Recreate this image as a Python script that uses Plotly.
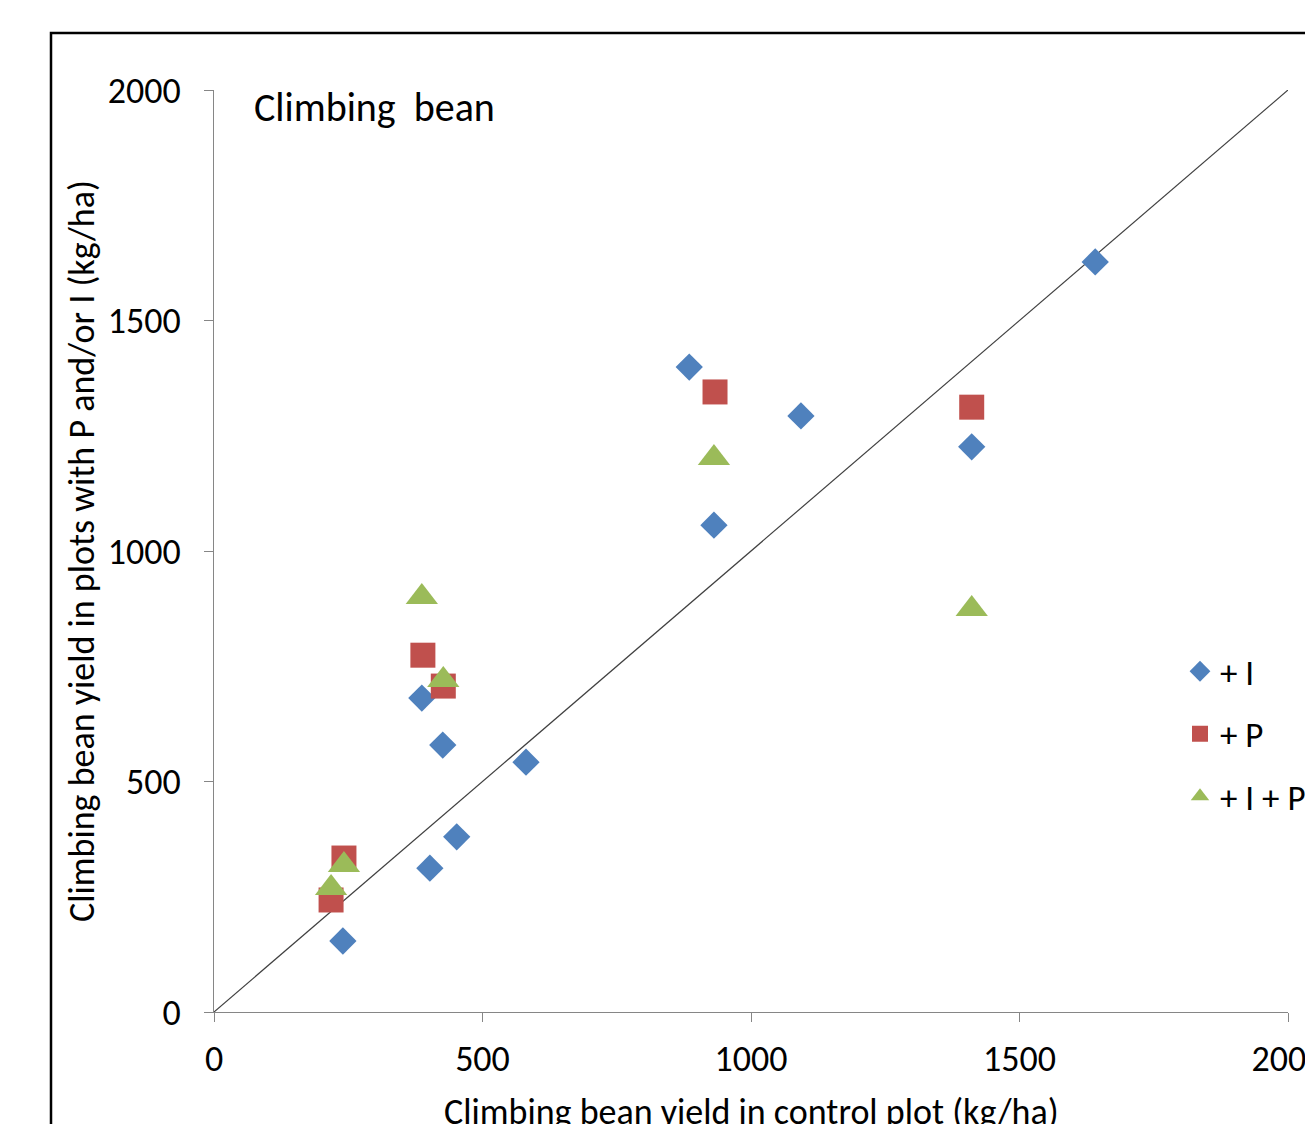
import plotly.graph_objects as go

# + I (blue diamonds)
i_x = [240, 218, 402, 452, 387, 426, 581, 885, 931, 1093, 1411, 1641]
i_y = [154, 258, 312, 380, 681, 579, 542, 1399, 1056, 1293, 1226, 1627]
# + P (red squares)
p_x = [218, 242, 389, 427, 933, 1411]
p_y = [243, 334, 774, 707, 1345, 1312]
# + I + P (green triangles)
ip_x = [218, 242, 387, 427, 931, 1411]
ip_y = [269, 319, 900, 720, 1202, 874]

line_x = [0, 2000]
line_y = [0, 2000]

FONT = "Carlito, Lato, Open Sans, sans-serif"
AXIS_GRAY = "#868686"

fig = go.Figure()
fig.add_trace(go.Scatter(x=line_x, y=line_y, mode="lines",
                         line=dict(color="#404040", width=1.2), showlegend=False,
                         hoverinfo="skip"))
fig.add_trace(go.Scatter(x=i_x, y=i_y, mode="markers", name="+ I", legendgroup="a",
                         marker=dict(symbol="diamond", size=21, color="#4F81BD", line=dict(width=0))))
fig.add_trace(go.Scatter(x=p_x, y=p_y, mode="markers", name="+ P", legendgroup="b",
                         marker=dict(symbol="square", size=25, color="#C0504D", line=dict(width=0))))
fig.add_trace(go.Scatter(x=ip_x, y=ip_y, mode="markers", name="+ I + P", legendgroup="c",
                         marker=dict(symbol="triangle-up", size=28, color="#9BBB59", line=dict(width=0))))

L, R, T, B = 214, 17, 90, 112
PW, PH = 1305 - L - R, 1124 - T - B

def px_to_paper_x(px):
    return (px - L) / PW

def px_to_paper_y(py):
    return (1124 - B - py) / PH

fig.update_layout(
    width=1305, height=1124,
    margin=dict(l=L, r=R, t=T, b=B, pad=0, autoexpand=False),
    paper_bgcolor="white", plot_bgcolor="white",
    font=dict(family=FONT, size=36, color="black"),
    xaxis=dict(range=[0, 2000], tickvals=[0, 500, 1000, 1500, 2000], automargin=False,
               ticklabeloverflow="allow",
               showgrid=False, zeroline=False, showline=True, linecolor=AXIS_GRAY, linewidth=1,
               ticks="outside", ticklen=9, tickcolor=AXIS_GRAY, tickwidth=1,
               tickfont=dict(size=36), ticklabelstandoff=6),
    yaxis=dict(range=[0, 2000], tickvals=[0, 500, 1000, 1500, 2000], automargin=False,
               ticklabeloverflow="allow",
               showgrid=False, zeroline=False, showline=True, linecolor=AXIS_GRAY, linewidth=1,
               ticks="outside", ticklen=9, tickcolor=AXIS_GRAY, tickwidth=1,
               tickfont=dict(size=36), ticklabelstandoff=16),
    legend=dict(x=px_to_paper_x(1180), y=px_to_paper_y(642), xanchor="left", yanchor="top",
                font=dict(size=35), tracegroupgap=14, bgcolor="rgba(0,0,0,0)",
                itemsizing="trace"),
    showlegend=True,
)

fig.add_annotation(text="Climbing  bean", xref="paper", yref="paper",
                   x=px_to_paper_x(252), y=px_to_paper_y(108), xanchor="left", yanchor="middle",
                   showarrow=False, font=dict(size=40, color="black"))
fig.add_annotation(text="Climbing bean yield in plots with P and/or I (kg/ha)", xref="paper", yref="paper",
                   x=px_to_paper_x(82), y=px_to_paper_y(551), xanchor="center", yanchor="middle",
                   textangle=-90, showarrow=False, font=dict(size=36, color="black"))
fig.add_annotation(text="Climbing bean yield in control plot (kg/ha)", xref="paper", yref="paper",
                   x=px_to_paper_x(751), y=px_to_paper_y(1112), xanchor="center", yanchor="middle",
                   showarrow=False, font=dict(size=36, color="black"))

# outer chart border (partially cropped in the reference)
fig.add_shape(type="rect", xref="paper", yref="paper",
              x0=px_to_paper_x(51), y0=px_to_paper_y(1200), x1=px_to_paper_x(1400), y1=px_to_paper_y(33),
              line=dict(color="black", width=2.5), fillcolor="rgba(0,0,0,0)", layer="below")

fig.write_html("out.html", config={"displayModeBar": False},
               post_script="document.body.style.margin='0';")
